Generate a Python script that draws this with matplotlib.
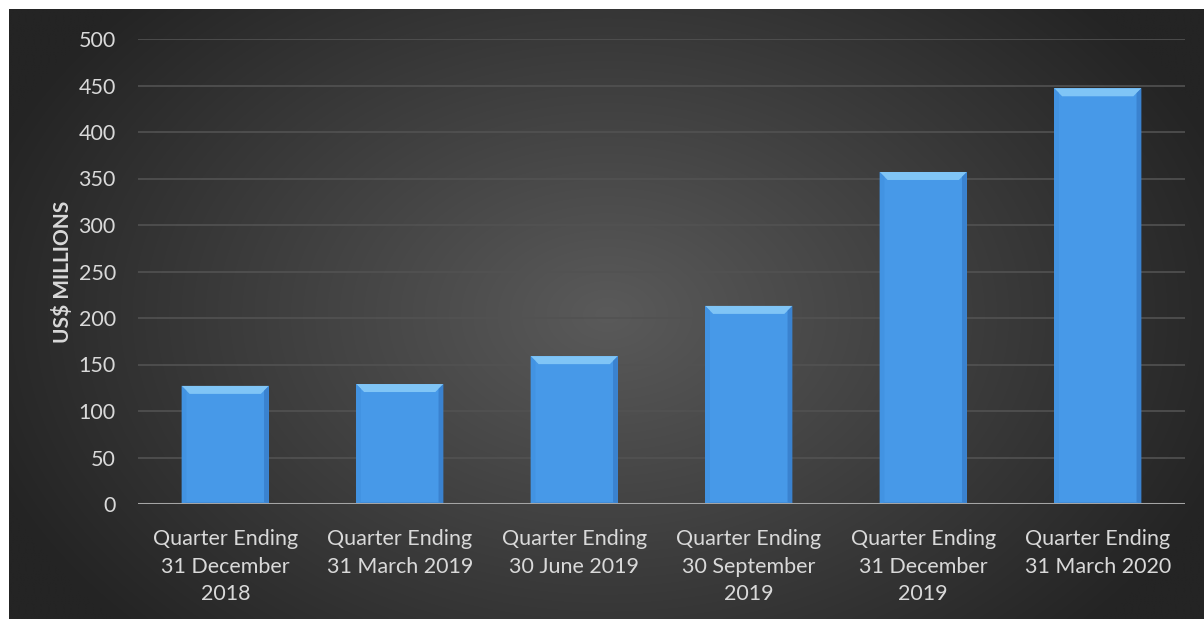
import matplotlib
matplotlib.use("Agg")
import matplotlib.pyplot as plt
import numpy as np
from matplotlib.patches import Polygon, Rectangle

categories = ["Quarter Ending\n31 December\n2018", "Quarter Ending\n31 March 2019",
              "Quarter Ending\n30 June 2019", "Quarter Ending\n30 September\n2019",
              "Quarter Ending\n31 December\n2019", "Quarter Ending\n31 March 2020"]
values = [127, 129, 159, 213, 357, 447]
yticks = [0, 50, 100, 150, 200, 250, 300, 350, 400, 450, 500]
ylabel = "US$ MILLIONS"

W, H = 1204, 619
fig = plt.figure(figsize=(W / 100, H / 100), dpi=100)
fig.patch.set_facecolor("#262626")

# radial gradient panel
bg = fig.add_axes([9 / W, 0, (W - 9) / W, (H - 9) / H], zorder=0)
ny, nx = 300, 600
yy, xx = np.mgrid[0:ny, 0:nx]
cx, cy = nx * 0.5, ny * 0.5
d = np.sqrt(((xx - cx) / (nx * 0.55)) ** 2 + ((yy - cy) / (ny * 0.75)) ** 2)
d = np.clip(d, 0, 1)
c0 = np.array([0x5a, 0x5a, 0x5a]) / 255
c1 = np.array([0x24, 0x24, 0x24]) / 255
img = c0[None, None, :] * (1 - d[..., None]) + c1[None, None, :] * d[..., None]
bg.imshow(img, aspect="auto", extent=[0, 1, 0, 1], interpolation="bilinear")
bg.set_xlim(0, 1)
bg.set_ylim(0, 1)
bg.set_axis_off()

# white margins on the left and top
fig.add_artist(Rectangle((0, 0), 9 / W, 1, transform=fig.transFigure,
                         facecolor="white", edgecolor="none", zorder=10))
fig.add_artist(Rectangle((0, (H - 9) / H), 1, 9 / H, transform=fig.transFigure,
                         facecolor="white", edgecolor="none", zorder=10))

ax = fig.add_axes([138 / W, 115 / H, (1185 - 138) / W, (504 - 39) / H], zorder=1)
ax.patch.set_alpha(0)
x = np.arange(len(values))
bw = 0.5
ax.bar(x, values, width=bw, color="#4799e8", zorder=3, linewidth=0)

dx = 0.046
dy = 8.6
for xi, v in zip(x, values):
    l, r = xi - bw / 2, xi + bw / 2
    ax.add_patch(Polygon([[l, v], [r, v], [r - dx, v - dy], [l + dx, v - dy]],
                         closed=True, facecolor="#80c5f6", edgecolor="none", zorder=4))
    ax.add_patch(Polygon([[l, v], [l + dx * 0.6, v - dy * 0.6], [l + dx * 0.6, dy * 0.2], [l, 0]],
                         closed=True, facecolor="#4293e2", edgecolor="none", zorder=4))
    ax.add_patch(Polygon([[r, v], [r - dx * 0.6, v - dy * 0.6], [r - dx * 0.6, dy * 0.2], [r, 0]],
                         closed=True, facecolor="#3a82cf", edgecolor="none", zorder=4))
    ax.add_patch(Polygon([[l, 0], [r, 0], [r - dx * 0.6, dy * 0.2], [l + dx * 0.6, dy * 0.2]],
                         closed=True, facecolor="#3b84cf", edgecolor="none", zorder=4))

ax.set_xlim(-0.5, len(values) - 0.5)
ax.set_ylim(0, 500)
ax.set_yticks(yticks)
ax.grid(axis="y", color="#525252", linewidth=1.2, zorder=1)
ax.axhline(0, color="#a5a5a5", linewidth=2.2, zorder=5)
for s in ax.spines.values():
    s.set_visible(False)
ax.tick_params(axis="both", length=0, colors="#d9d9d9")
ax.tick_params(axis="y", pad=16)
ax.tick_params(axis="x", pad=18)
ax.set_xticks(x)
ax.set_xticklabels(categories, fontsize=15.5, fontfamily="Lato", color="#d9d9d9",
                   linespacing=1.48, va="top")
for t in ax.get_yticklabels():
    t.set_fontsize(15.5)
    t.set_fontfamily("Lato")
    t.set_color("#d9d9d9")
ax.set_ylabel(ylabel, fontsize=15, fontfamily="Lato", fontweight="bold", color="#d9d9d9",
              labelpad=4)

fig.savefig("out.png", dpi=100, facecolor=fig.get_facecolor())
